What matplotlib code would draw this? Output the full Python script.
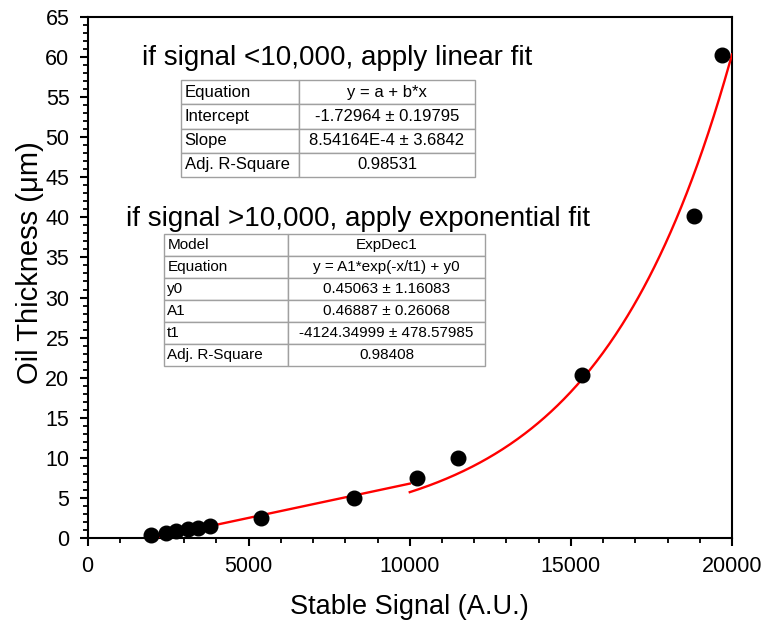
import numpy as np
import matplotlib
matplotlib.use('Agg')
import matplotlib.pyplot as plt
from matplotlib.ticker import MultipleLocator

plt.rcParams['font.family'] = ['Liberation Sans', 'DejaVu Sans']

# measured thickness vs stable signal
signal = [1970, 2420, 2760, 3130, 3440, 3810, 5380, 8270, 10230, 11500, 15330, 18820, 19690]
thickness = [0.4, 0.7, 0.9, 1.1, 1.3, 1.55, 2.5, 5.0, 7.5, 10.0, 20.3, 40.1, 60.2]

# fit parameters
lin_a = -1.72964
lin_b = 8.54164E-4
exp_y0 = 0.45063
exp_A1 = 0.46887
exp_t1 = -4124.34999

lin_rows = [
    ['Equation', 'y = a + b*x'],
    ['Intercept', '-1.72964 \u00b1 0.19795'],
    ['Slope', '8.54164E-4 \u00b1 3.6842'],
    ['Adj. R-Square', '0.98531'],
]
exp_rows = [
    ['Model', 'ExpDec1'],
    ['Equation', 'y = A1*exp(-x/t1) + y0'],
    ['y0', '0.45063 \u00b1 1.16083'],
    ['A1', '0.46887 \u00b1 0.26068'],
    ['t1', '-4124.34999 \u00b1 478.57985'],
    ['Adj. R-Square', '0.98408'],
]


def add_table(ax, rows, bbox, split, fontsize):
    tab = ax.table(cellText=rows, bbox=bbox, colWidths=[split, 1 - split],
                   cellLoc='center', zorder=5)
    tab.auto_set_font_size(False)
    tab.set_fontsize(fontsize)
    for (r, c), cell in tab.get_celld().items():
        cell.set_edgecolor('#a0a0a0')
        cell.set_linewidth(1.0)
        cell.set_facecolor('white')
        if c == 0:
            cell.PAD = 0.03
            cell.set_text_props(ha='left')
    return tab


fig = plt.figure(figsize=(7.65, 6.22), dpi=100)
ax = fig.add_axes([0.1144, 0.1346, 0.8425, 0.8386])

xl = np.linspace(signal[0], 10000, 200)
ax.plot(xl, lin_a + lin_b * xl, color='red', lw=1.7, zorder=3)
xe = np.linspace(10000, 20000, 300)
ax.plot(xe, exp_A1 * np.exp(-xe / exp_t1) + exp_y0, color='red', lw=1.7, zorder=3)

ax.plot(signal, thickness, 'o', color='black', ms=10.5, zorder=4, clip_on=False)

ax.set_xlim(0, 20000)
ax.set_ylim(0, 65)
ax.xaxis.set_major_locator(MultipleLocator(5000))
ax.xaxis.set_minor_locator(MultipleLocator(1000))
ax.yaxis.set_major_locator(MultipleLocator(5))
ax.yaxis.set_minor_locator(MultipleLocator(1))
ax.tick_params(which='major', direction='out', length=6, width=1.5, labelsize=15.5, pad=7)
ax.tick_params(which='minor', direction='out', length=3.5, width=1.3)
for sp in ax.spines.values():
    sp.set_linewidth(1.5)

ax.set_xlabel('Stable Signal (A.U.)', fontsize=19.5)
ax.set_ylabel('Oil Thickness (\u03bcm)', fontsize=21)
ax.xaxis.set_label_coords(0.5, -0.106)
ax.yaxis.set_label_coords(-0.068, 0.528)

ax.text(0.085, 0.907, 'if signal <10,000, apply linear fit', transform=ax.transAxes,
        fontsize=20, va='baseline', ha='left')
ax.text(0.06, 0.599, 'if signal >10,000, apply exponential fit', transform=ax.transAxes,
        fontsize=20, va='baseline', ha='left')

add_table(ax, lin_rows, [0.145, 0.693, 0.456, 0.185], 0.402, 12)
add_table(ax, exp_rows, [0.118, 0.330, 0.499, 0.254], 0.386, 11)

fig.savefig('out.png', dpi=100)
